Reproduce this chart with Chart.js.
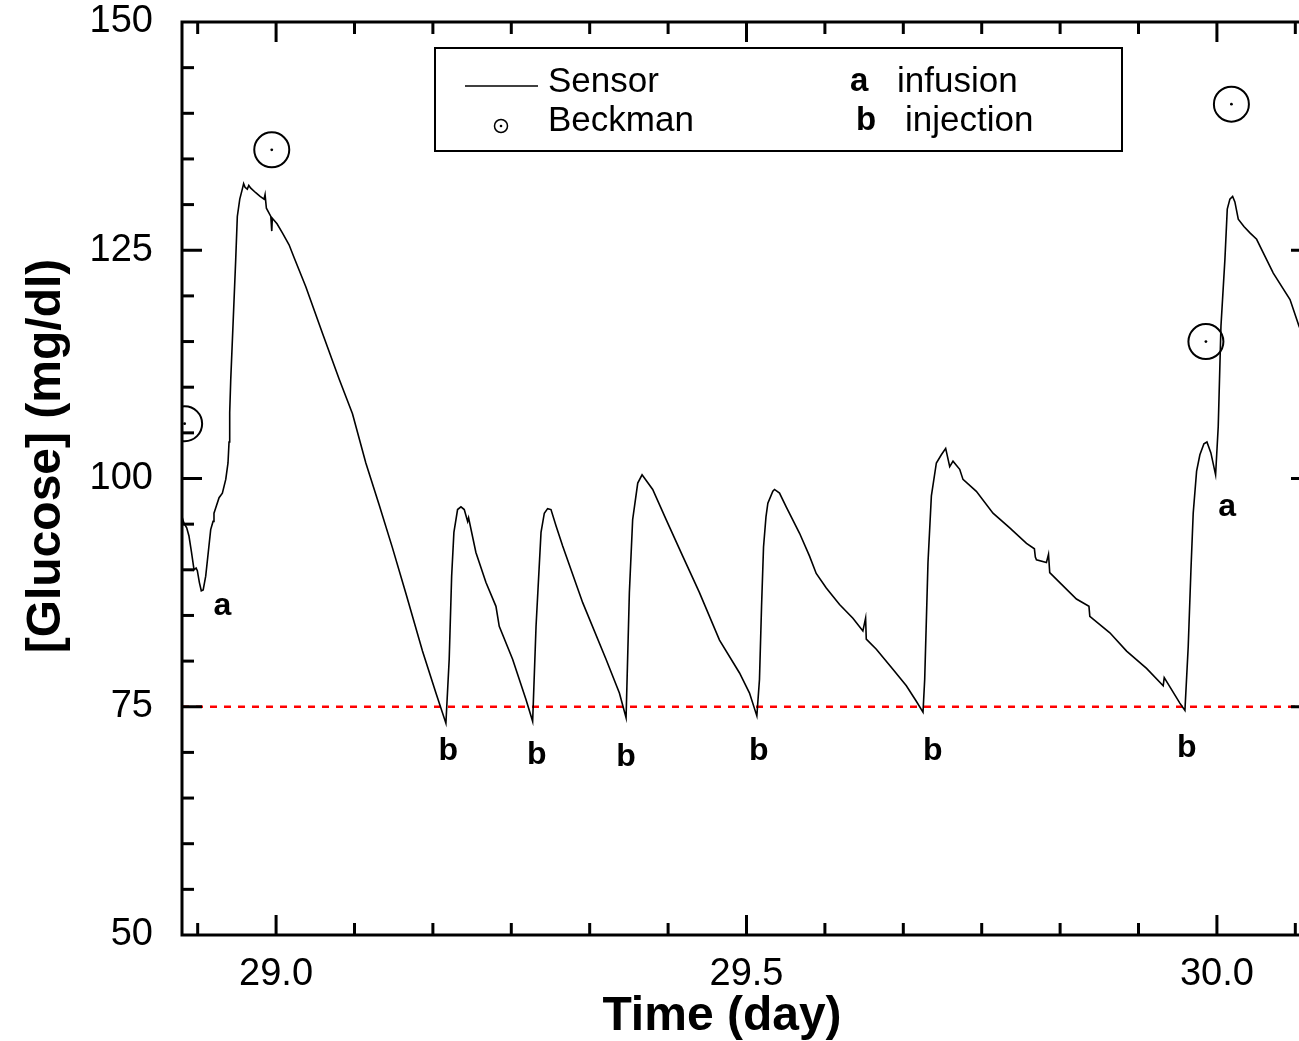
<!DOCTYPE html>
<html>
<head>
<meta charset="utf-8">
<script src="https://cdn.jsdelivr.net/npm/chart.js@4.4.1/dist/chart.umd.min.js"></script>
<style>
html, body { margin: 0; padding: 0; overflow: hidden; background: #fff; }
#wrap { width: 1331px; height: 1041px; }
</style>
</head>
<body>
<div id="wrap"><canvas id="c" width="1331" height="1041"></canvas></div>
<script>
// ---------------- data ----------------
const sensorTime = [
  28.9000, 28.9021, 28.9050, 28.9074, 28.9100, 28.9128, 28.9150, 28.9163, 28.9185, 28.9205,
  28.9225, 28.9252, 28.9280, 28.9305, 28.9330, 28.9340, 28.9359, 28.9394, 28.9429, 28.9465,
  28.9489, 28.9500, 28.9507, 28.9518, 28.9543, 28.9571, 28.9588, 28.9614, 28.9641, 28.9655,
  28.9670, 28.9694, 28.9710, 28.9731, 28.9784, 28.9830, 28.9872, 28.9883, 28.9897, 28.9944,
  28.9954, 28.9960, 29.0010, 29.0067, 29.0138, 29.0191, 29.0316, 29.0493, 29.0670, 29.0812,
  29.0954, 29.1096, 29.1237, 29.1380, 29.1556, 29.1699, 29.1805, 29.1840, 29.1866, 29.1890,
  29.1929, 29.1965, 29.2000, 29.2036, 29.2046, 29.2124, 29.2231, 29.2337, 29.2372, 29.2514,
  29.2656, 29.2727, 29.2763, 29.2816, 29.2851, 29.2886, 29.2922, 29.2976, 29.3046, 29.3259,
  29.3507, 29.3649, 29.3720, 29.3755, 29.3790, 29.3844, 29.3890, 29.4003, 29.4146, 29.4322,
  29.4500, 29.4713, 29.4926, 29.5032, 29.5110, 29.5138, 29.5160, 29.5181, 29.5207, 29.5227,
  29.5280, 29.5298, 29.5351, 29.5422, 29.5564, 29.5670, 29.5741, 29.5848, 29.5989, 29.6131,
  29.6237, 29.6266, 29.6273, 29.6380, 29.6556, 29.6699, 29.6805, 29.6876, 29.6894, 29.6929,
  29.6965, 29.7018, 29.7071, 29.7117, 29.7160, 29.7195, 29.7266, 29.7301, 29.7443, 29.7620,
  29.7798, 29.7976, 29.8060, 29.8070, 29.8082, 29.8188, 29.8210, 29.8223, 29.8330, 29.8507,
  29.8640, 29.8649, 29.8862, 29.9040, 29.9252, 29.9429, 29.9440, 29.9606, 29.9660, 29.9695,
  29.9724, 29.9748, 29.9784, 29.9819, 29.9862, 29.9894, 29.9936, 29.9986, 30.0014, 30.0043,
  30.0085, 30.0110, 30.0138, 30.0167, 30.0191, 30.0227, 30.0287, 30.0351, 30.0422, 30.0489,
  30.0599, 30.0777, 30.0872, 30.1000
];
const sensorGlucose = [
  95.8, 95.1, 94.6, 93.7, 92.0, 90.0, 90.2, 89.9, 88.6, 87.7,
  87.8, 89.3, 92.0, 94.4, 95.3, 96.2, 96.8, 97.9, 98.4, 99.9,
  101.7, 104.0, 107.2, 110.8, 117.0, 124.0, 128.7, 130.6, 131.7, 132.3,
  131.9, 131.7, 132.1, 131.8, 131.3, 130.9, 130.6, 131.1, 129.6, 128.7,
  127.1, 128.5, 127.9, 126.9, 125.6, 124.2, 121.0, 115.9, 110.9, 107.1,
  101.7, 97.1, 92.4, 87.4, 81.1, 76.5, 73.2, 80.2, 89.3, 94.1,
  96.6, 96.9, 96.6, 95.3, 95.7, 91.9, 88.6, 86.0, 83.8, 80.2,
  75.8, 73.4, 83.8, 94.1, 96.2, 96.7, 96.6, 94.8, 92.6, 86.4,
  80.2, 76.5, 73.8, 87.5, 95.5, 99.5, 100.4, 98.8, 95.5, 91.5,
  87.5, 82.3, 78.7, 76.5, 74.0, 78.0, 86.0, 92.5, 95.8, 97.3,
  98.6, 98.8, 98.4, 96.9, 94.0, 91.5, 89.6, 88.0, 86.2, 84.7,
  83.3, 84.7, 82.4, 81.3, 79.1, 77.3, 75.6, 74.4, 78.0, 90.8,
  98.1, 101.7, 102.6, 103.3, 101.3, 101.9, 101.0, 99.9, 98.6, 96.2,
  94.6, 92.9, 92.3, 91.4, 91.1, 90.8, 91.7, 89.7, 88.6, 86.8,
  86.0, 84.9, 83.1, 81.1, 79.2, 77.3, 78.2, 75.4, 74.6, 81.6,
  90.0, 96.2, 100.8, 102.6, 103.8, 104.0, 102.8, 100.4, 105.7, 116.7,
  124.0, 129.5, 130.6, 130.9, 130.3, 128.4, 127.6, 126.9, 126.2, 124.8,
  122.5, 119.6, 116.7, 113.5
];
const beckmanTime    = [28.9028, 28.9954, 29.9883, 30.0154];
const beckmanGlucose = [106.0, 136.0, 115.0, 141.0];
const thresholdTime    = [28.9, 30.1];
const thresholdGlucose = [75, 75];
const xTickValues = [29.0, 29.5, 30.0];
const yTickValues = [50, 75, 100, 125, 150];
const annotationText    = ['a', 'a', 'b', 'b', 'b', 'b', 'b', 'b'];
const annotationTime    = [28.943, 30.011, 29.183, 29.277, 29.372, 29.513, 29.698, 29.968];
const annotationGlucose = [86.0, 96.9, 70.1, 69.7, 69.5, 70.1, 70.1, 70.5];
const xTitle = 'Time (day)';
const yTitle = '[Glucose] (mg/dl)';

// ---------------- drawing ----------------
const FAMILY = "'Liberation Sans', Arial, Helvetica, sans-serif";

const framePlugin = {
  id: 'frame',
  afterDatasetsDraw(chart) {
    const { ctx, chartArea: a, scales: { x, y } } = chart;
    ctx.save();
    ctx.strokeStyle = '#000';
    ctx.lineWidth = 3;
    ctx.lineCap = 'butt';
    ctx.strokeRect(a.left, a.top, a.right - a.left, a.bottom - a.top);
    const seg = (x1, y1, x2, y2) => { ctx.beginPath(); ctx.moveTo(x1, y1); ctx.lineTo(x2, y2); ctx.stroke(); };
    for (let k = Math.ceil(x.min * 12 - 1e-6); k <= Math.floor(x.max * 12 + 1e-6); k++) {
      const v = k / 12;
      const px = x.getPixelForValue(v);
      const major = Math.abs(v * 2 - Math.round(v * 2)) < 1e-6;
      const L = major ? 20 : 12;
      seg(px, a.bottom, px, a.bottom - L);
      seg(px, a.top, px, a.top + L);
    }
    for (let v = y.min + 5; v < y.max; v += 5) {
      const py = y.getPixelForValue(v);
      const major = v % 25 === 0;
      const L = major ? 20 : 12;
      seg(a.left, py, a.left + L, py);
      seg(a.right, py, a.right - L, py);
    }
    ctx.restore();
  }
};

const annotationPlugin = {
  id: 'letters',
  afterDatasetsDraw(chart) {
    const { ctx, scales: { x, y } } = chart;
    ctx.save();
    ctx.fillStyle = '#000';
    ctx.font = "bold 32px " + FAMILY;
    ctx.textAlign = 'center';
    ctx.textBaseline = 'middle';
    annotationText.forEach((t, i) => {
      ctx.fillText(t, x.getPixelForValue(annotationTime[i]), y.getPixelForValue(annotationGlucose[i]));
    });
    ctx.restore();
  }
};

const titlePlugin = {
  id: 'axisTitles',
  afterDraw(chart) {
    const { ctx } = chart;
    ctx.save();
    ctx.fillStyle = '#000';
    ctx.font = "bold 48px " + FAMILY;
    ctx.textAlign = 'center';
    ctx.textBaseline = 'middle';
    ctx.fillText(xTitle, 722, 1017);
    ctx.translate(47, 456);
    ctx.rotate(-Math.PI / 2);
    ctx.fillText(yTitle, 0, 0);
    ctx.restore();
  }
};

const legendPlugin = {
  id: 'customLegend',
  afterDraw(chart) {
    const { ctx } = chart;
    ctx.save();
    ctx.fillStyle = '#fff';
    ctx.fillRect(435, 48, 687, 103);
    ctx.strokeStyle = '#000';
    ctx.lineWidth = 2;
    ctx.strokeRect(435, 48, 687, 103);
    ctx.lineWidth = 1.6;
    ctx.beginPath(); ctx.moveTo(465, 86); ctx.lineTo(538, 86); ctx.stroke();
    ctx.lineWidth = 1.5;
    ctx.beginPath(); ctx.arc(501, 126, 6.5, 0, Math.PI * 2); ctx.stroke();
    ctx.fillStyle = '#000';
    ctx.beginPath(); ctx.arc(501, 126, 1.3, 0, Math.PI * 2); ctx.fill();
    ctx.textBaseline = 'middle';
    ctx.textAlign = 'left';
    ctx.font = "35px " + FAMILY;
    ctx.fillText('Sensor', 548, 82);
    ctx.fillText('Beckman', 548, 121);
    ctx.fillText('infusion', 897, 82);
    ctx.fillText('injection', 905, 121);
    ctx.font = "bold 33px " + FAMILY;
    ctx.fillText('a', 850, 82);
    ctx.fillText('b', 856, 121);
    ctx.restore();
  }
};

const toPts = (xs, ys) => xs.map((t, i) => ({ x: t, y: ys[i] }));
const noPad = s => { s.paddingLeft = 0; s.paddingRight = 0; s.paddingTop = 0; s.paddingBottom = 0; };

new Chart(document.getElementById('c'), {
  type: 'scatter',
  data: {
    datasets: [
      { label: 'threshold', data: toPts(thresholdTime, thresholdGlucose), showLine: true,
        borderColor: '#ff0000', borderWidth: 2.5, borderDash: [7, 7], pointRadius: 0, order: 3 },
      { label: 'Sensor', data: toPts(sensorTime, sensorGlucose), showLine: true,
        borderColor: '#000', borderWidth: 1.6, pointRadius: 0, tension: 0, order: 2 },
      { label: 'Beckman', data: toPts(beckmanTime, beckmanGlucose), showLine: false,
        pointRadius: 17.5, pointBorderWidth: 2, pointBorderColor: '#000',
        pointBackgroundColor: 'rgba(0,0,0,0)', order: 1 },
      { label: 'Beckman centre', data: toPts(beckmanTime, beckmanGlucose), showLine: false,
        pointRadius: 1.4, pointBorderWidth: 0, pointBackgroundColor: '#000', order: 0 }
    ]
  },
  options: {
    responsive: false,
    animation: false,
    events: [],
    layout: { padding: { top: 22, right: 20, left: 0, bottom: 0 } },
    plugins: { legend: { display: false }, tooltip: { enabled: false } },
    scales: {
      x: {
        type: 'linear', min: 28.9, max: 30.1,
        afterBuildTicks: s => { s.ticks = xTickValues.map(v => ({ value: v })); },
        afterFit: s => { s.height = 106; noPad(s); },
        grid: { display: false }, border: { display: false },
        ticks: { color: '#000', font: { family: FAMILY, size: 38 }, padding: 9,
                 maxRotation: 0, autoSkip: false, callback: v => Number(v).toFixed(1) },
        title: { display: false }
      },
      y: {
        type: 'linear', min: 50, max: 150,
        afterBuildTicks: s => { s.ticks = yTickValues.map(v => ({ value: v })); },
        afterFit: s => { s.width = 182; noPad(s); },
        grid: { display: false }, border: { display: false },
        ticks: { color: '#000', font: { family: FAMILY, size: 38 }, padding: 21, autoSkip: false },
        title: { display: false }
      }
    }
  },
  plugins: [framePlugin, annotationPlugin, titlePlugin, legendPlugin]
});
</script>
</body>
</html>
